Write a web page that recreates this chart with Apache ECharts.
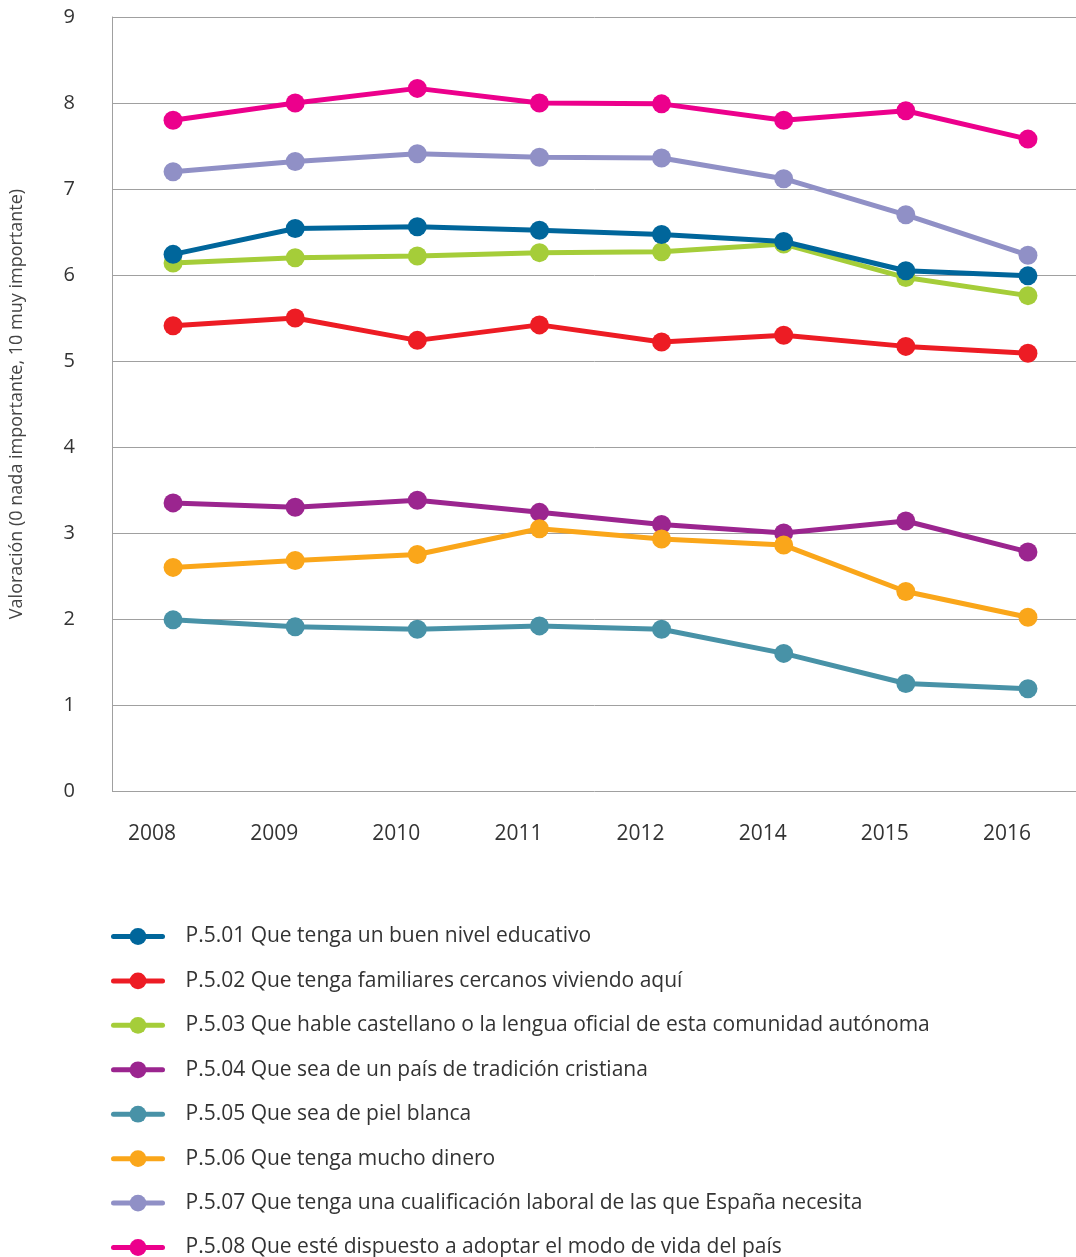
<!DOCTYPE html>
<html>
<head>
<meta charset="utf-8">
<script src="https://cdn.jsdelivr.net/npm/echarts@6/dist/echarts.min.js"></script>
<style>
html,body{margin:0;padding:0;background:#fff;}
#chart{width:1076px;height:1257px;}
</style>
</head>
<body>
<div id="chart"></div>
<script>
const years = ['2008','2009','2010','2011','2012','2014','2015','2016'];
const yTicks = [0,1,2,3,4,5,6,7,8,9];
const seriesNames = [
  'P.5.01 Que tenga un buen nivel educativo',
  'P.5.02 Que tenga familiares cercanos viviendo aquí',
  'P.5.03 Que hable castellano o la lengua oficial de esta comunidad autónoma',
  'P.5.04 Que sea de un país de tradición cristiana',
  'P.5.05 Que sea de piel blanca',
  'P.5.06 Que tenga mucho dinero',
  'P.5.07 Que tenga una cualificación laboral de las que España necesita',
  'P.5.08 Que esté dispuesto a adoptar el modo de vida del país'
];
const p501 = [6.24, 6.54, 6.56, 6.52, 6.47, 6.39, 6.05, 5.99];
const p502 = [5.41, 5.50, 5.24, 5.42, 5.22, 5.30, 5.17, 5.09];
const p503 = [6.14, 6.20, 6.22, 6.26, 6.27, 6.36, 5.97, 5.76];
const p504 = [3.35, 3.30, 3.38, 3.24, 3.10, 3.00, 3.14, 2.78];
const p505 = [1.99, 1.91, 1.88, 1.92, 1.88, 1.60, 1.25, 1.19];
const p506 = [2.60, 2.68, 2.75, 3.05, 2.93, 2.86, 2.32, 2.02];
const p507 = [7.20, 7.32, 7.41, 7.37, 7.36, 7.12, 6.70, 6.23];
const p508 = [7.80, 8.00, 8.17, 8.00, 7.99, 7.80, 7.91, 7.58];

const values = [p501, p502, p503, p504, p505, p506, p507, p508];
const colors = ['#00669b', '#ed1c24', '#a5cd39', '#9b258f', '#4892a7', '#faa61a', '#9090c6', '#ec008c'];
const zs = [4, 2, 3, 2, 2, 3, 2, 2];

const FONT = '"Open Sans", Lato, sans-serif';
const chart = echarts.init(document.getElementById('chart'), null, {renderer: 'canvas'});

const series = values.map((v, i) => ({
  name: seriesNames[i],
  type: 'line',
  data: v,
  z: zs[i],
  symbol: 'circle',
  symbolSize: 19,
  showAllSymbol: true,
  lineStyle: {width: 5, color: colors[i]},
  itemStyle: {color: colors[i]},
  emphasis: {disabled: true},
  animation: false
}));

chart.setOption({
  animation: false,
  backgroundColor: '#ffffff',
  color: colors,
  grid: {left: 112, top: 17, width: 977, height: 774, containLabel: false, outerBoundsMode: 'none'},
  xAxis: {
    type: 'category',
    data: years,
    boundaryGap: true,
    axisLine: {show: false},
    axisTick: {show: false},
    splitLine: {show: false},
    axisLabel: {
      color: '#333333', fontSize: 21, fontFamily: FONT, margin: 33,
      padding: [0, 42, 0, 0]
    }
  },
  yAxis: {
    type: 'value',
    min: yTicks[0],
    max: yTicks[yTicks.length - 1],
    interval: 1,
    name: 'Valoración (0 nada importante, 10 muy importante)',
    nameLocation: 'middle',
    nameGap: 86,
    nameRotate: 90,
    nameTextStyle: {color: '#444444', fontSize: 18, fontFamily: FONT},
    axisLine: {show: true, lineStyle: {color: '#a0a0a0', width: 1}},
    axisTick: {show: false},
    splitLine: {show: true, lineStyle: {color: '#a0a0a0', width: 1}},
    axisLabel: {color: '#333333', fontSize: 20, fontFamily: FONT, margin: 37}
  },
  legend: {
    orient: 'vertical',
    left: 111,
    top: 926,
    height: 360,
    padding: 0,
    itemWidth: 49,
    itemHeight: 21,
    itemGap: 23.43,
    data: seriesNames,
    lineStyle: {width: 5, cap: 'round'},
    textStyle: {color: '#333333', fontSize: 21, lineHeight: 21, fontFamily: FONT, padding: [0, 0, 0, 18]},
    selectedMode: false
  },
  series: series
});
</script>
</body>
</html>
